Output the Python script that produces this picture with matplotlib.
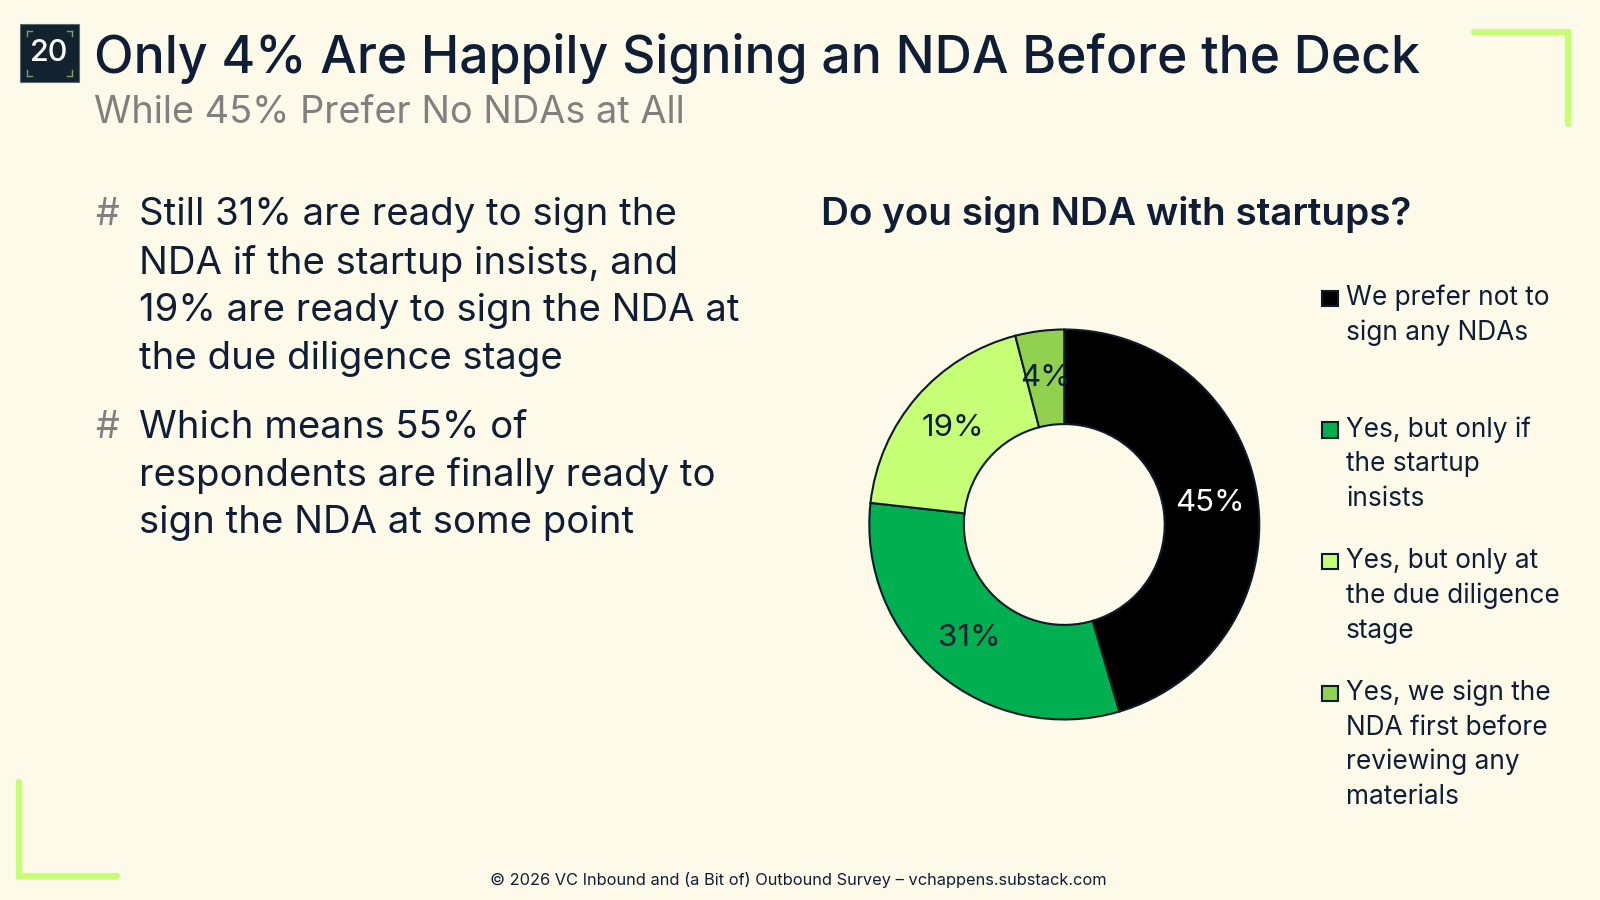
import matplotlib.pyplot as plt
from matplotlib.patches import Rectangle
from matplotlib.lines import Line2D

plt.rcParams['font.family'] = ['Inter', 'DejaVu Sans']

# data
labels = ["We prefer not to\nsign any NDAs",
          "Yes, but only if\nthe startup\ninsists",
          "Yes, but only at\nthe due diligence\nstage",
          "Yes, we sign the\nNDA first before\nreviewing any\nmaterials"]
values = [45, 31, 19, 4]
colors = ["#000000", "#00B050", "#C6FF75", "#92D050"]
pct_colors = ["white", "#0F1E36", "#0F1E36", "#0F1E36"]

title = "Only 4% Are Happily Signing an NDA Before the Deck"
subtitle = "While 45% Prefer No NDAs at All"
bullets = ["Still 31% are ready to sign the\nNDA if the startup insists, and\n19% are ready to sign the NDA at\nthe due diligence stage",
           "Which means 55% of\nrespondents are finally ready to\nsign the NDA at some point"]
chart_title = "Do you sign NDA with startups?"
footer = "© 2026 VC Inbound and (a Bit of) Outbound Survey – vchappens.substack.com"

BG = "#FEFAEA"
NAVY = "#0F1E36"
LIME = "#C6FF75"
W, H = 1568, 882

fig = plt.figure(figsize=(16, 9), dpi=100, facecolor=BG)

def fx(x):
    return x / W

def fy(y):
    return 1 - y / H

# badge
fig.patches.append(Rectangle((fx(20), fy(80)), fx(57), 56 / H, transform=fig.transFigure,
                             facecolor="#13222F", edgecolor="#5A6A70", lw=0.8))
for (x0, y0, dx, dy) in [(26, 30, 1, 1), (71, 30, -1, 1), (26, 74, 1, -1), (71, 74, -1, -1)]:
    fig.lines.append(Line2D([fx(x0), fx(x0 + 5 * dx)], [fy(y0), fy(y0)], transform=fig.transFigure,
                            color="#7FA060", lw=1))
    fig.lines.append(Line2D([fx(x0), fx(x0)], [fy(y0), fy(y0 + 5 * dy)], transform=fig.transFigure,
                            color="#7FA060", lw=1))
fig.text(fx(48.5), fy(52), "20", color="white", fontsize=22, fontweight="medium",
         ha="center", va="center")

# title
fig.text(fx(92), fy(72), title, color=NAVY, fontsize=37.2, fontweight="medium", va="baseline")
fig.text(fx(92), fy(121), subtitle, color="#808080", fontsize=27.3, va="baseline")

# corner brackets
fig.lines.append(Line2D([fx(1445), fx(1537), fx(1537)], [fy(31), fy(31), fy(122)],
                        transform=fig.transFigure, color=LIME, lw=4.5, solid_capstyle="round",
                        solid_joinstyle="miter"))
fig.lines.append(Line2D([fx(19), fx(19), fx(115)], [fy(766), fy(858), fy(858)],
                        transform=fig.transFigure, color=LIME, lw=4.5, solid_capstyle="round",
                        solid_joinstyle="miter"))

# bullets
line_h = 47
y0 = 211
for b in bullets:
    fig.text(fx(93), fy(y0), "#", color="#808080", fontsize=27, va="center")
    lines = b.split("\n")
    for i, ln in enumerate(lines):
        fig.text(fx(136), fy(y0 + i * line_h), ln, color=NAVY, fontsize=27.6, va="center")
    y0 += len(lines) * line_h + 20

# chart title
fig.text(fx(805), fy(210), chart_title, color=NAVY, fontsize=27.8, fontweight="semibold", va="center")

# donut
cx, cy, r = 1043, 514, 193
ax = fig.add_axes([fx(cx - r), fy(cy + r), 2 * r / W, 2 * r / H])
ax.set_facecolor(BG)
wedges, _, autotexts = ax.pie(values, colors=colors, startangle=90, counterclock=False,
                              autopct="%1.0f%%", pctdistance=0.757,
                              wedgeprops=dict(width=0.485, edgecolor="#0D1B2A", linewidth=1.5))
for t, v, c in zip(autotexts, values, pct_colors):
    t.set_text(f"{v}%")
    t.set_color(c)
    t.set_fontsize(22.5)
ax.set_xlim(-1.01, 1.01)
ax.set_ylim(-1.01, 1.01)
ax.axis("off")

# legend
ly = [292, 421, 550, 679]
for lab, col, y in zip(labels, colors, ly):
    fig.patches.append(Rectangle((fx(1296), fy(y + 8)), fx(15), 15 / H, transform=fig.transFigure,
                                 facecolor=col, edgecolor="#0D1B2A", lw=1.5))
    for i, ln in enumerate(lab.split("\n")):
        fig.text(fx(1319), fy(y + i * 34), ln, color=NAVY, fontsize=18.9, va="center")

# footer
fig.text(fx(782), fy(862), footer, color=NAVY, fontsize=11.8, ha="center", va="center")

fig.savefig("out.png", dpi=100, facecolor=BG)
